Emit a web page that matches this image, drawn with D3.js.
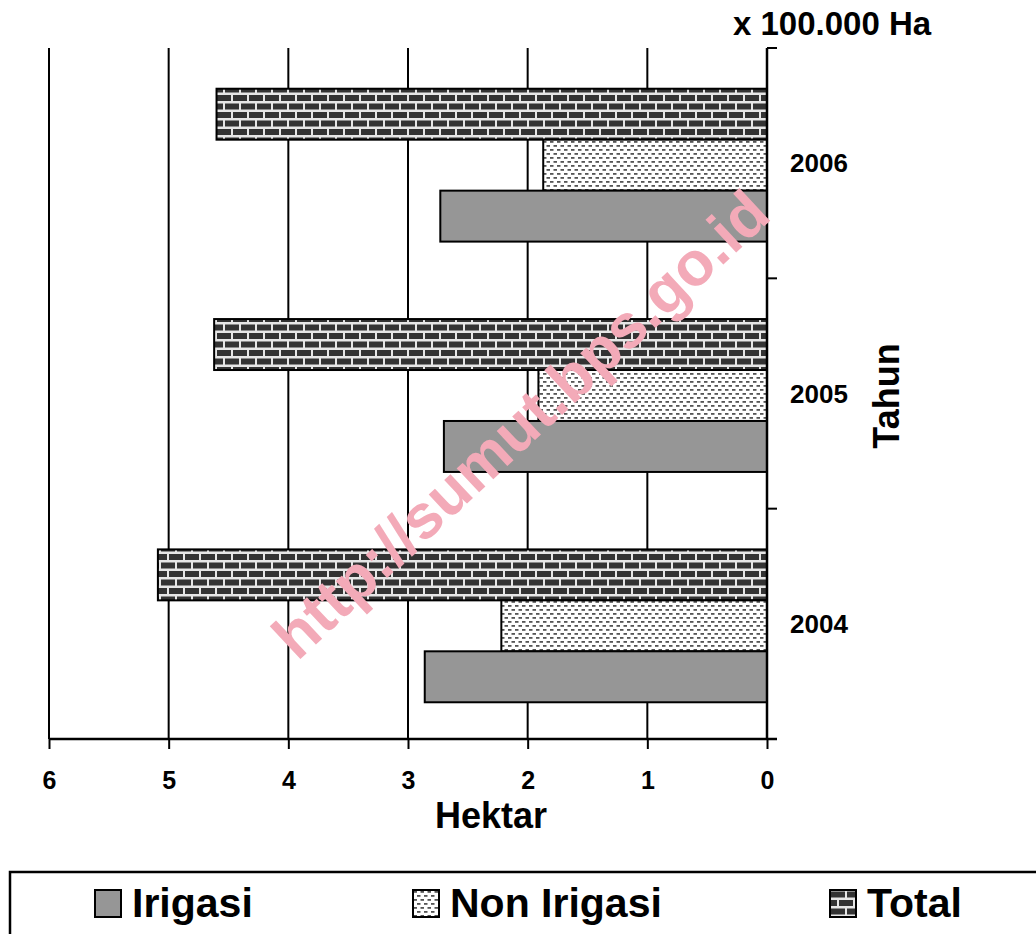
<!DOCTYPE html>
<html>
<head>
<meta charset="utf-8">
<script src="https://cdn.jsdelivr.net/npm/d3@7"></script>
<style>
  html, body { margin: 0; padding: 0; background: #fff; }
  svg { display: block; }
  text { font-family: "Liberation Sans", Arial, sans-serif; font-weight: bold; fill: #000; }
</style>
</head>
<body>
<svg id="chart" width="1036" height="934"></svg>
<script>
// ---- data ----
const years = ["2006", "2005", "2004"];
const series = ["Total", "Non Irigasi", "Irigasi"];
const legendOrder = ["Irigasi", "Non Irigasi", "Total"];
const irigasi = [2.73, 2.70, 2.86];
const nonIrigasi = [1.87, 1.91, 2.22];
const total = [4.60, 4.62, 5.09];
const xTicks = [0, 1, 2, 3, 4, 5, 6];
const unitLabel = "x 100.000 Ha";
const xTitle = "Hektar";
const yTitle = "Tahun";
const watermark = "http://sumut.bps.go.id";

const valuesBySeries = { "Irigasi": irigasi, "Non Irigasi": nonIrigasi, "Total": total };
const fillBySeries = { "Irigasi": "#969696", "Non Irigasi": "url(#dots)", "Total": "url(#bricks)" };

const svg = d3.select("#chart");
const defs = svg.append("defs");

// brick pattern
const pb = defs.append("pattern").attr("id", "bricks").attr("patternUnits", "userSpaceOnUse")
  .attr("width", 16).attr("height", 17);
pb.append("rect").attr("width", 16).attr("height", 17).attr("fill", "#e6e6e6");
pb.append("rect").attr("x", 1).attr("y", 1.5).attr("width", 14).attr("height", 6).attr("fill", "#333");
pb.append("rect").attr("x", -7).attr("y", 10).attr("width", 14).attr("height", 6).attr("fill", "#333");
pb.append("rect").attr("x", 9).attr("y", 10).attr("width", 14).attr("height", 6).attr("fill", "#333");

// dotted pattern
const pd = defs.append("pattern").attr("id", "dots").attr("patternUnits", "userSpaceOnUse")
  .attr("width", 7).attr("height", 8);
pd.append("rect").attr("width", 7).attr("height", 8).attr("fill", "#fff");
pd.append("rect").attr("x", 0.5).attr("y", 1).attr("width", 3.5).attr("height", 1.8).attr("fill", "#555");
pd.append("rect").attr("x", 4).attr("y", 5).attr("width", 3.5).attr("height", 1.8).attr("fill", "#555");
pd.append("rect").attr("x", -3).attr("y", 5).attr("width", 3.5).attr("height", 1.8).attr("fill", "#555");

// scales
const x = d3.scaleLinear().domain([0, 6]).range([767, 49]);
const y = d3.scaleBand().domain(years).range([48, 739]).paddingInner(0).paddingOuter(0);
const ySub = d3.scaleBand().domain(series).range([2, y.bandwidth() + 2]).paddingInner(0).paddingOuter(0.76);

// gridlines
svg.append("g").selectAll("line").data(xTicks.filter(d => d > 0)).join("line")
  .attr("x1", d => x(d)).attr("x2", d => x(d))
  .attr("y1", 48).attr("y2", 739)
  .attr("stroke", "#000").attr("stroke-width", 2);

// bars
const rows = [];
years.forEach((yr, i) => series.forEach(s => rows.push({ year: yr, series: s, value: valuesBySeries[s][i] })));
svg.append("g").selectAll("rect").data(rows).join("rect")
  .attr("x", d => x(d.value))
  .attr("width", d => x(0) - x(d.value))
  .attr("y", d => y(d.year) + ySub(d.series))
  .attr("height", ySub.bandwidth())
  .attr("fill", d => fillBySeries[d.series])
  .attr("stroke", "#000").attr("stroke-width", 2);

// bottom axis
const xAxis = d3.axisBottom(x).tickValues(xTicks).tickSize(10).tickPadding(22).tickFormat(d3.format("d"));
const gx = svg.append("g").attr("transform", "translate(0,739)").call(xAxis);
gx.select(".domain").attr("d", "M49,0H777").attr("stroke", "#000").attr("stroke-width", 2.5);
gx.selectAll(".tick line").attr("stroke", "#000").attr("stroke-width", 2);
gx.selectAll(".tick text").attr("font-size", 25).attr("font-family", "Liberation Sans, Arial, sans-serif")
  .attr("font-weight", "bold").attr("fill", "#000");

// right axis
const gy = svg.append("g").attr("transform", "translate(767,0)");
gy.append("line").attr("x1", 0).attr("x2", 0).attr("y1", 48).attr("y2", 739)
  .attr("stroke", "#000").attr("stroke-width", 2.5);
const boundaries = years.map(d => y(d)).concat([y.range()[1]]);
gy.selectAll("line.tk").data(boundaries).join("line").attr("class", "tk")
  .attr("x1", 0).attr("x2", 10).attr("y1", d => d).attr("y2", d => d)
  .attr("stroke", "#000").attr("stroke-width", 2);
gy.selectAll("text").data(years).join("text")
  .attr("x", 23).attr("y", d => y(d) + y.bandwidth() / 2 + 9)
  .attr("font-size", 26).text(d => d);

// titles
svg.append("text").attr("x", 733).attr("y", 35).attr("font-size", 33).text(unitLabel);
svg.append("text").attr("x", 491).attr("y", 828).attr("text-anchor", "middle").attr("font-size", 36).text(xTitle);
svg.append("text").attr("transform", "translate(899,396) rotate(-90)").attr("text-anchor", "middle")
  .attr("font-size", 36).text(yTitle);

// watermark
svg.append("text").attr("transform", "translate(524,428) rotate(-43)")
  .attr("text-anchor", "middle").attr("dominant-baseline", "middle")
  .attr("font-size", 62).style("fill", "#f3aab8").text(watermark);

// legend
svg.append("rect").attr("x", 10).attr("y", 872).attr("width", 1040).attr("height", 80)
  .attr("fill", "none").attr("stroke", "#000").attr("stroke-width", 2.5);
const legendX = { "Irigasi": 95, "Non Irigasi": 413, "Total": 830 };
const lg = svg.append("g").selectAll("g").data(legendOrder).join("g")
  .attr("transform", d => `translate(${legendX[d]},890)`);
lg.append("rect").attr("width", 26).attr("height", 27)
  .attr("fill", d => fillBySeries[d]).attr("stroke", "#000").attr("stroke-width", 2);
lg.append("text").attr("x", 37).attr("y", 27).attr("font-size", 41).text(d => d);
</script>
</body>
</html>
